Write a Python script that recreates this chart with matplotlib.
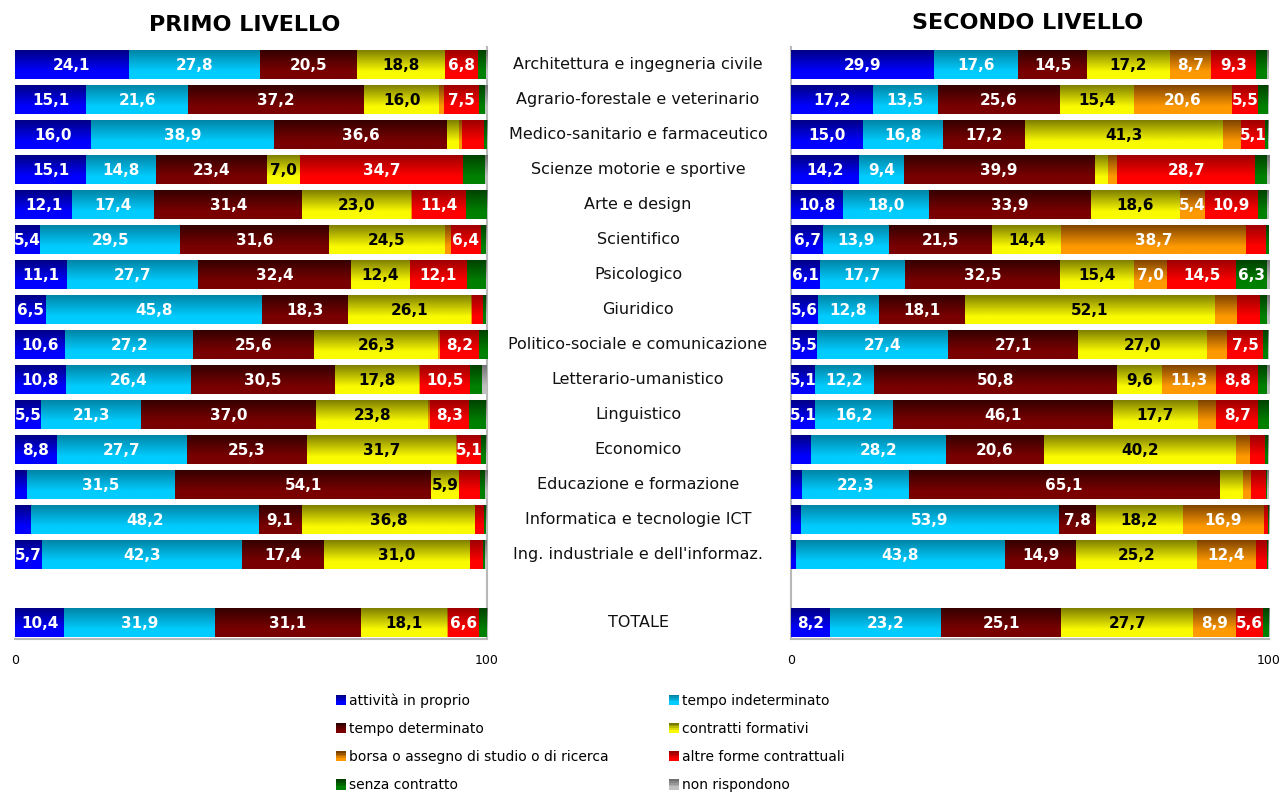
import numpy as np
import matplotlib
matplotlib.use("Agg")
import matplotlib.pyplot as plt
from matplotlib.colors import LinearSegmentedColormap, to_rgb
from matplotlib.legend_handler import HandlerBase
from matplotlib.patches import Patch, Rectangle

plt.rcParams["font.family"] = ["DejaVu Sans"]

categories = [
    "Architettura e ingegneria civile",
    "Agrario-forestale e veterinario",
    "Medico-sanitario e farmaceutico",
    "Scienze motorie e sportive",
    "Arte e design",
    "Scientifico",
    "Psicologico",
    "Giuridico",
    "Politico-sociale e comunicazione",
    "Letterario-umanistico",
    "Linguistico",
    "Economico",
    "Educazione e formazione",
    "Informatica e tecnologie ICT",
    "Ing. industriale e dell'informaz.",
    "TOTALE",
]

series = [
    "attività in proprio",
    "tempo indeterminato",
    "tempo determinato",
    "contratti formativi",
    "borsa o assegno di studio o di ricerca",
    "altre forme contrattuali",
    "senza contratto",
    "non rispondono",
]

# one row per category, one column per series (percentages)
primo_livello = [
    [24.1, 27.8, 20.5, 18.8, 0.0, 6.8, 1.7, 0.3],
    [15.1, 21.6, 37.2, 16.0, 1.0, 7.5, 1.1, 0.5],
    [16.0, 38.9, 36.6, 2.5, 0.7, 4.7, 0.5, 0.1],
    [15.1, 14.8, 23.4, 7.0, 0.0, 34.7, 4.5, 0.5],
    [12.1, 17.4, 31.4, 23.0, 0.2, 11.4, 4.4, 0.1],
    [5.4, 29.5, 31.6, 24.5, 1.3, 6.4, 1.1, 0.2],
    [11.1, 27.7, 32.4, 12.4, 0.0, 12.1, 4.1, 0.2],
    [6.5, 45.8, 18.3, 26.1, 0.2, 2.3, 0.6, 0.2],
    [10.6, 27.2, 25.6, 26.3, 0.3, 8.2, 1.8, 0.0],
    [10.8, 26.4, 30.5, 17.8, 0.4, 10.5, 2.6, 1.0],
    [5.5, 21.3, 37.0, 23.8, 0.3, 8.3, 3.6, 0.2],
    [8.8, 27.7, 25.3, 31.7, 0.2, 5.1, 1.0, 0.2],
    [2.5, 31.5, 54.1, 5.9, 0.0, 4.5, 1.0, 0.5],
    [3.4, 48.2, 9.1, 36.8, 0.0, 1.8, 0.5, 0.2],
    [5.7, 42.3, 17.4, 31.0, 0.0, 2.8, 0.4, 0.4],
    [10.4, 31.9, 31.1, 18.1, 0.3, 6.6, 1.5, 0.1],
]

secondo_livello = [
    [29.9, 17.6, 14.5, 17.2, 8.7, 9.3, 2.4, 0.4],
    [17.2, 13.5, 25.6, 15.4, 20.6, 5.5, 2.0, 0.2],
    [15.0, 16.8, 17.2, 41.3, 3.8, 5.1, 0.6, 0.2],
    [14.2, 9.4, 39.9, 2.8, 2.0, 28.7, 2.5, 0.5],
    [10.8, 18.0, 33.9, 18.6, 5.4, 10.9, 2.0, 0.4],
    [6.7, 13.9, 21.5, 14.4, 38.7, 4.2, 0.6, 0.0],
    [6.1, 17.7, 32.5, 15.4, 7.0, 14.5, 6.3, 0.5],
    [5.6, 12.8, 18.1, 52.1, 4.7, 4.8, 1.4, 0.5],
    [5.5, 27.4, 27.1, 27.0, 4.3, 7.5, 1.0, 0.2],
    [5.1, 12.2, 50.8, 9.6, 11.3, 8.8, 1.7, 0.5],
    [5.1, 16.2, 46.1, 17.7, 3.9, 8.7, 2.3, 0.0],
    [4.2, 28.2, 20.6, 40.2, 2.9, 3.1, 0.6, 0.2],
    [2.3, 22.3, 65.1, 4.8, 1.7, 3.2, 0.2, 0.4],
    [2.1, 53.9, 7.8, 18.2, 16.9, 0.8, 0.2, 0.1],
    [1.0, 43.8, 14.9, 25.2, 12.4, 2.2, 0.3, 0.2],
    [8.2, 23.2, 25.1, 27.7, 8.9, 5.6, 1.2, 0.1],
]

# (bright bottom colour, dark top colour) for each series
colors = [
    ("#0000FF", "#000080"),
    ("#00CCFF", "#0082A2"),
    ("#7A0000", "#320000"),
    ("#FAFA00", "#7A7A00"),
    ("#FF9900", "#7A4000"),
    ("#FF0000", "#990000"),
    ("#008000", "#003F00"),
    ("#C0C0C0", "#707070"),
]
label_colors = ["white", "white", "white", "black", "white", "white", "white", "black"]

y_pos = list(range(15)) + [15.95]
bar_h = 0.83

W, H = 1283, 793
fig = plt.figure(figsize=(W / 100, H / 100), dpi=100)


def gradient_cmap(bright, dark):
    return LinearSegmentedColormap.from_list(
        "g", [(0.0, dark), (0.75, bright), (1.0, bright)]
    )


grad = np.linspace(0, 1, 64).reshape(-1, 1)


def draw_panel(ax, data, right_side):
    data = np.array(data)
    left = np.zeros(len(data))
    for j in range(data.shape[1]):
        bright, dark = colors[j]
        bars = ax.barh(y_pos, data[:, j], left=left, height=bar_h,
                       color=bright, edgecolor="none", zorder=2)
        cmap = gradient_cmap(bright, dark)
        for p in bars.patches:
            if p.get_width() <= 0:
                continue
            x0, y0 = p.get_x(), p.get_y()
            im = ax.imshow(grad, cmap=cmap, aspect="auto", origin="upper",
                           extent=(x0, x0 + p.get_width(), y0 + bar_h, y0),
                           interpolation="bilinear", zorder=3)
            im.set_clip_path(p)
        for yy, l, v in zip(y_pos, left, data[:, j]):
            if v >= 5:
                ax.text(l + v / 2, yy + 0.03, f"{v:.1f}".replace(".", ","),
                        ha="center", va="center", fontsize=11,
                        fontweight="bold", color=label_colors[j],
                        clip_on=True, zorder=5)
        left = left + data[:, j]

    ax.set_xlim(0, 100)
    ax.set_ylim(16.42, -0.51)
    ax.set_xticks([0, 100])
    ax.set_xticklabels(["0", "100"], fontsize=9)
    ax.tick_params(axis="x", length=0, pad=11)
    ax.set_yticks([])
    for s in ["top", "left", "right"]:
        ax.spines[s].set_visible(False)
    side = "left" if right_side else "right"
    ax.spines[side].set_visible(True)
    for s in [side, "bottom"]:
        ax.spines[s].set_color("#B8B8B8")
        ax.spines[s].set_linewidth(1.5)
    ax.spines["bottom"].set_zorder(6)


ax_bottom, ax_top = 639, 47
ax1 = fig.add_axes([15 / W, 1 - ax_bottom / H, 472 / W, (ax_bottom - ax_top) / H])
ax2 = fig.add_axes([791 / W, 1 - ax_bottom / H, 478 / W, (ax_bottom - ax_top) / H])
draw_panel(ax1, primo_livello, False)
draw_panel(ax2, secondo_livello, True)

for yy, cat in zip(y_pos, categories):
    ax1.text((638 - 15) / 472, yy, cat, transform=ax1.get_yaxis_transform(),
             ha="center", va="center", fontsize=11.5, color="#111111")

fig.text(245 / W, 1 - 25 / H, "PRIMO LIVELLO", ha="center", va="center",
         fontsize=16, fontweight="bold")
fig.text(1028 / W, 1 - 23 / H, "SECONDO LIVELLO", ha="center", va="center",
         fontsize=16, fontweight="bold")


class GradientHandler(HandlerBase):
    def __init__(self, bright, dark):
        super().__init__()
        self.bright = np.array(to_rgb(bright))
        self.dark = np.array(to_rgb(dark))

    def create_artists(self, legend, orig_handle, xdescent, ydescent,
                       width, height, fontsize, trans):
        n = 6
        arts = []
        for k in range(n):
            t = min(1.0, k / (n - 2))
            c = self.dark + (self.bright - self.dark) * t
            r = Rectangle((-xdescent, -ydescent + height * (n - 1 - k) / n),
                          width, height / n, facecolor=c, edgecolor="none",
                          transform=trans)
            arts.append(r)
        return arts


handles = [Patch(facecolor=c[0], label=s) for s, c in zip(series, colors)]
hmap = {h: GradientHandler(*c) for h, c in zip(handles, colors)}
# legend reads row by row: reorder for matplotlib's column-first filling
order = [0, 2, 4, 6, 1, 3, 5, 7]
fig.legend([handles[i] for i in order], [series[i] for i in order],
           handler_map=hmap, ncol=2, loc="upper left",
           bbox_to_anchor=(336 / W, 1 - 693 / H), frameon=False,
           fontsize=10, handlelength=0.75, handleheight=0.75,
           handletextpad=0.2, labelspacing=1.03, columnspacing=4.3,
           borderaxespad=0, borderpad=0)

fig.savefig("out.png", dpi=100)
